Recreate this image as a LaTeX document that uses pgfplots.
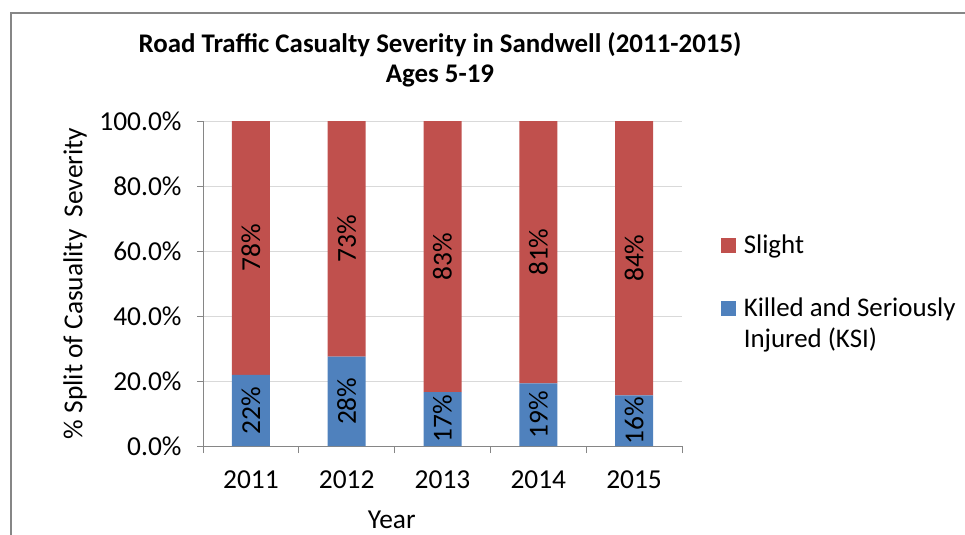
\documentclass[border=0pt]{standalone}
\usepackage{fontspec}
\setmainfont{Carlito}
\usepackage{pgfplots}
\usepackage{pgfplotstable}
\pgfplotsset{compat=1.18}
\definecolor{ksiblue}{HTML}{4F81BD}
\definecolor{slightred}{HTML}{C0504D}
\definecolor{gridgray}{HTML}{D9D9D9}
\definecolor{axisgray}{HTML}{868686}
\pgfplotstableread{
x ksi slight ksil slil
0 21.9 78.1 22 78
1 27.5 72.5 28 73
2 16.6 83.4 17 83
3 19.3 80.7 19 81
4 15.6 84.4 16 84
}\datatable
\newcommand{\chartfont}{\fontsize{27.5}{32}\selectfont}
\begin{document}
\begin{tikzpicture}
\path[use as bounding box] (0,0) rectangle (965bp,-535bp);
\draw[axisgray, line width=1.2bp] (11bp,-535bp) -- (11bp,-13bp) -- (965bp,-13bp);
\node[align=center, font=\fontsize{27}{30}\selectfont\bfseries] at (440bp,-60bp)
  {Road Traffic Casualty Severity in Sandwell (2011-2015)\\Ages 5-19};
\begin{axis}[
  at={(203bp,-446bp)}, anchor=south west,
  scale only axis, width=479bp, height=325bp,
  ybar stacked, bar width=38bp,
  xmin=-0.5, xmax=4.5, ymin=0, ymax=100,
  xtick={0,1,2,3,4}, xticklabels={2011,2012,2013,2014,2015},
  minor xtick={-0.5,0.5,1.5,2.5,3.5,4.5},
  ytick={0,20,40,60,80,100},
  yticklabel={\pgfmathprintnumber[fixed,fixed zerofill,precision=1]{\tick}\%},
  /pgf/number format/assume math mode=true,
  axis x line*=bottom, axis y line*=left,
  axis line style={axisgray, line width=1bp, -},
  tick style={axisgray, line width=1bp},
  major x tick style={draw=none},
  tick align=outside,
  major tick length=6bp, minor tick length=7bp,
  ymajorgrids, grid style={gridgray, line width=1bp},
  ticklabel style={font=\chartfont, text=black},
  xticklabel style={yshift=-15bp},
  yticklabel style={xshift=-12bp},
  xlabel={Year}, ylabel={\% Split of Casuality\ \ Severity},
  label style={font=\chartfont},
  xlabel style={at={(rel axis cs:0.394,0)}, anchor=center, yshift=-74bp},
  ylabel style={at={(rel axis cs:-0.267,0.5)}, anchor=center},
  point meta=explicit symbolic,
  nodes near coords={\pgfplotspointmeta\%},
  every node near coord/.style={font=\chartfont, text=black, rotate=90, anchor=center},
  reverse legend,
  legend style={at={(rel axis cs:1.081,0.655)}, anchor=north west, draw=none, fill=none,
    inner sep=0pt, outer sep=0pt,
    font=\fontsize{27}{31}\selectfont, row sep=36bp, column sep=6bp,
    cells={anchor=base west, inner sep=0pt}},
  legend image code/.code={\fill[#1] (0bp,1bp) rectangle (15bp,16bp);},
]
\addplot[fill=ksiblue, draw=none] table[x=x, y=ksi, meta=ksil] {\datatable};
\addlegendentry{\begin{tabular}[t]{@{}l@{}}Killed and Seriously\\Injured (KSI)\end{tabular}}
\addplot[fill=slightred, draw=none] table[x=x, y=slight, meta=slil] {\datatable};
\addlegendentry{Slight}
\end{axis}
\end{tikzpicture}
\end{document}
